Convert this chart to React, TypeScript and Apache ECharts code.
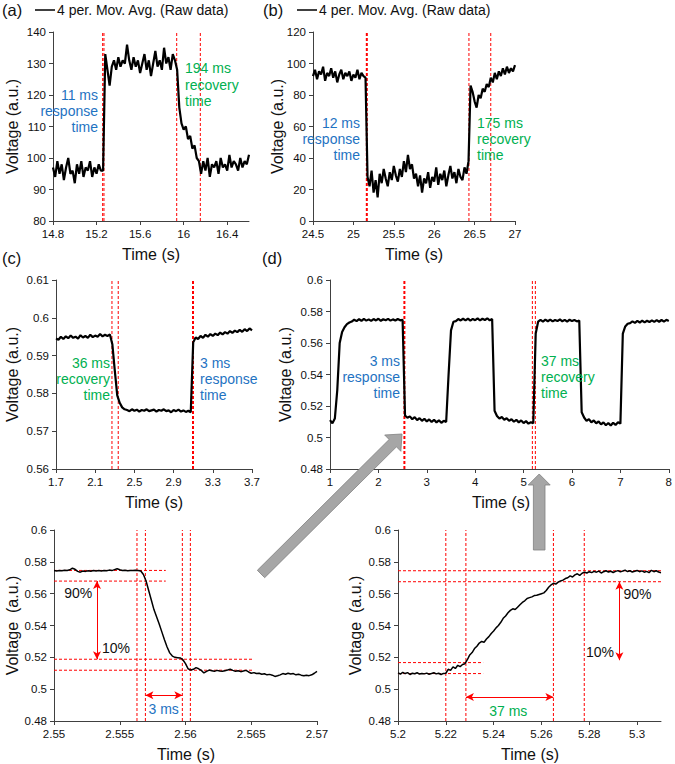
import React, { useEffect, useRef } from 'react';
import * as echarts from 'echarts';

const FONT = '"Liberation Sans", Arial, sans-serif';
const LEGEND_NAME = '4 per. Mov. Avg. (Raw data)';
const BLUE = '#1f73c2';
const GREEN = '#00b050';
const RED = '#ff0000';

// ---------- panel (a) ----------
const aStart = 14.8;
const aStep = 0.02;
const aValues = [
  97, 94, 99, 95, 98, 93, 97, 100, 95, 96, 92, 98, 95, 99, 94, 97, 96, 99, 94, 97, 95, 98, 96,
  96,
  133, 128, 123, 129, 131, 128, 132, 129, 131, 130, 136, 131, 128, 132, 129, 131, 127, 130, 133, 128,
  131, 126, 130, 134, 129, 131, 128, 135, 130, 132, 128, 133, 131,
  128, 116, 111,
  109, 110, 106, 107, 103, 104, 100, 99,
  95, 99, 96, 100, 94, 98, 97, 99, 95, 100, 97, 98, 96, 101, 97, 99, 98, 96, 100, 97, 99, 98, 101,
];
const aMarkers = [15.256, 15.268, 15.936, 16.153];

// ---------- panel (b) ----------
const bStart = 24.5;
const bStep = 0.025;
const bValues = [
  92, 96, 90, 95, 93, 98, 89, 94, 92, 97, 91, 95, 88, 93, 96, 90, 94, 92, 95, 89, 93, 91, 96, 90, 94, 92, 91,
  28, 22, 32, 18, 26, 15, 30, 24, 33, 27, 22, 31, 26, 35, 29, 25, 33, 28, 38, 31,
  42, 33, 36, 27, 30, 22, 29, 18, 27, 24, 31, 21, 28, 25, 34, 23, 30, 26, 32, 22,
  29, 35, 27, 31, 24, 33, 28, 26, 34, 30,
  38, 86, 82, 76, 72, 80, 78, 84, 82, 87, 85, 91, 88, 94, 90, 95, 92, 97, 93, 98, 94, 97, 95, 99,
];
const bMarkersBold = [25.166];
const bMarkers = [26.43, 26.7];

// ---------- panel (c) ----------
const cStart = 1.7;
const cStep = 0.025;
const cValues = [
  0.5945, 0.5942, 0.595, 0.5944, 0.5951, 0.5946, 0.5953, 0.5947, 0.595, 0.5945,
  0.5954, 0.5948, 0.5952, 0.5947, 0.5955, 0.5949, 0.5953, 0.595, 0.5957, 0.5951,
  0.5955, 0.5952, 0.5956,
  0.593, 0.586, 0.5795, 0.5775, 0.5763, 0.5758,
  0.5756, 0.5753, 0.5758, 0.5754, 0.5757, 0.5752, 0.5756, 0.5754, 0.5758, 0.5753,
  0.5755, 0.5757, 0.5752, 0.5756, 0.5754, 0.5758, 0.5753, 0.5755, 0.575, 0.5756,
  0.5753, 0.5757, 0.5752, 0.5755, 0.5751, 0.5754, 0.575,
  0.5935,
  0.5948, 0.5944, 0.5952, 0.5947, 0.5955, 0.595, 0.5957, 0.5952, 0.5958, 0.5954,
  0.5961, 0.5956, 0.5962, 0.5958, 0.5965, 0.596, 0.5966, 0.5962, 0.5968, 0.5963,
  0.597, 0.5965, 0.5972, 0.5967,
];
const cMarkers = [2.271, 2.335];
const cMarkersBold = [3.098];

// ---------- panel (d) ----------
const dStart = 1;
const dStep = 0.05;
const dValues = [
  0.511, 0.509, 0.512,
  0.53, 0.56, 0.567, 0.57, 0.572, 0.573,
  0.5736, 0.5748, 0.5739, 0.5751, 0.5741, 0.5753, 0.5742, 0.575, 0.574, 0.5752,
  0.5743, 0.5754, 0.5741, 0.5751, 0.5744, 0.5753, 0.5742, 0.575, 0.5743, 0.5752, 0.5744, 0.5748,
  0.514,
  0.5125, 0.5134, 0.5116, 0.5129, 0.511, 0.5123, 0.5106, 0.5119, 0.5102, 0.5115,
  0.5099, 0.5112, 0.5096, 0.5109, 0.5093, 0.5106, 0.5098,
  0.54, 0.568, 0.5735,
  0.5739, 0.5752, 0.5743, 0.5754, 0.5744, 0.5755, 0.5742, 0.5753, 0.5745, 0.5756,
  0.5743, 0.5754, 0.5746, 0.5757, 0.5744, 0.5752,
  0.517,
  0.5137, 0.512, 0.513, 0.5113, 0.5122, 0.5106, 0.5116, 0.51, 0.5112, 0.5096,
  0.5108, 0.5092, 0.5104, 0.5088, 0.5097,
  0.509, 0.566, 0.5735,
  0.5747, 0.5736, 0.5748, 0.5738, 0.5749, 0.5737, 0.5746, 0.5739, 0.575, 0.5738,
  0.5747, 0.5736, 0.5748, 0.5739, 0.5746, 0.5737, 0.5743,
  0.516,
  0.5127, 0.5106, 0.5117, 0.5096, 0.5108, 0.509, 0.5102, 0.5083, 0.5096, 0.5078,
  0.5092, 0.5076, 0.5094, 0.508, 0.5097, 0.5088,
  0.566, 0.5705, 0.5722,
  0.5726, 0.5737, 0.5728, 0.574, 0.573, 0.5742, 0.5731, 0.5741, 0.5733, 0.5744,
  0.5734, 0.5745, 0.5735, 0.5746, 0.5736, 0.5747, 0.574,
];
const dMarkers = [5.181, 5.243];
const dMarkersBold = [2.537];

// ---------- panel (e) ----------
const eStart = 2.55;
const eStep = 0.0002;
const eValues = [
  0.5745, 0.5743, 0.5746, 0.5744, 0.5747, 0.5745, 0.575, 0.576, 0.5753, 0.574,
  0.5735, 0.5742, 0.574, 0.5744, 0.5741, 0.5746, 0.5743, 0.5745, 0.5742, 0.5746,
  0.5744, 0.5748, 0.5745, 0.5751, 0.5757, 0.575, 0.5745, 0.5747, 0.5744, 0.5746,
  0.5745, 0.5747, 0.5746,
  0.5742, 0.572, 0.568, 0.562, 0.556, 0.55, 0.5455, 0.541, 0.536, 0.531,
  0.5265, 0.5228, 0.5208, 0.52, 0.5198, 0.5196, 0.5185, 0.516, 0.5128,
  0.512, 0.5125, 0.5135, 0.5128, 0.5118, 0.5102, 0.5112, 0.512, 0.5116, 0.5112,
  0.5118, 0.5114, 0.5112, 0.5116, 0.512, 0.5125, 0.5118, 0.5112, 0.5116, 0.511,
  0.5114, 0.5118, 0.5108, 0.51, 0.5104, 0.5098, 0.51, 0.5094, 0.5097, 0.509,
  0.5093, 0.5088, 0.508, 0.5084, 0.509, 0.5098, 0.5094, 0.51, 0.5095, 0.5098,
  0.509, 0.5094, 0.5088, 0.5084, 0.5088, 0.5085, 0.509, 0.51, 0.5112,
];
const eVertical = [2.55631, 2.55695, 2.55976, 2.56037];
const eLevelsTop = [0.5746, 0.5679];
const eLevelsBottom = [0.5188, 0.5119];
const eTopEnd = 2.5585;
const eBottomEnd = 2.56506;
const eArrowV = { x: 2.55327, from: 0.5679, to: 0.5188 };
const eArrowH = { y: 0.4962, from: 2.55695, to: 2.55976 };

// ---------- panel (f) ----------
const fStart = 5.2;
const fStep = 0.001;
const fValues = [
  0.5102, 0.5095, 0.5106, 0.5098, 0.5104, 0.5092, 0.51, 0.5097, 0.5103, 0.5095,
  0.5099, 0.5096, 0.5101, 0.5094, 0.5098, 0.5103, 0.5096, 0.51, 0.5092, 0.5099,
  0.51, 0.5125, 0.5118, 0.514, 0.513, 0.515, 0.5142, 0.5155, 0.516,
  0.5185, 0.5215, 0.523, 0.5255, 0.527, 0.529, 0.53, 0.5295, 0.5315, 0.533,
  0.535, 0.5365, 0.5385, 0.54, 0.542, 0.5445, 0.546,
  0.548, 0.5495, 0.5505, 0.55, 0.5515, 0.553, 0.5545, 0.5555, 0.557, 0.5575,
  0.558, 0.5588, 0.559, 0.5595, 0.56, 0.5605, 0.562, 0.564, 0.5655,
  0.5665, 0.566, 0.5672, 0.568, 0.5685, 0.5695, 0.57, 0.5712, 0.5705, 0.5718,
  0.5725, 0.5715, 0.5728, 0.5735, 0.573, 0.5738,
  0.5732, 0.574, 0.5735, 0.5742, 0.573, 0.5738, 0.5744, 0.5736, 0.5741, 0.5733,
  0.574, 0.5745, 0.5737, 0.5742, 0.5748, 0.5739, 0.5744, 0.5736, 0.5741, 0.5746,
  0.5738, 0.5743, 0.5735, 0.574, 0.5732, 0.5747, 0.5738, 0.5744, 0.5736, 0.5732,
];
const fVertical = [5.22, 5.2284, 5.265, 5.2779];
const fLevelsTop = [0.5744, 0.5675];
const fLevelsBottom = [0.5167, 0.5098];
const fBottomEnd = 5.2356;
const fArrowV = { x: 5.2926, from: 0.5675, to: 0.5182 };
const fArrowH = { y: 0.4951, from: 5.2284, to: 5.265 };

// axis ranges
const aRange = { xMin: 14.8, xMax: 16.6, xInt: 0.4, yMin: 80, yMax: 140, yInt: 10 };
const bRange = { xMin: 24.5, xMax: 27, xInt: 0.5, yMin: 0, yMax: 120, yInt: 20 };
const cRange = { xMin: 1.7, xMax: 3.7, xInt: 0.4, yMin: 0.56, yMax: 0.61, yInt: 0.01 };
const dRange = { xMin: 1, xMax: 8, xInt: 1, yMin: 0.48, yMax: 0.6, yInt: 0.02 };
const eRange = { xMin: 2.55, xMax: 2.57, xInt: 0.005, yMin: 0.48, yMax: 0.6, yInt: 0.02 };
const fRange = { xMin: 5.2, xMax: 5.31, xInt: 0.02, yMin: 0.48, yMax: 0.6, yInt: 0.02 };

function toPairs(start: number, step: number, values: number[]) {
  return values.map((v, i) => [start + step * i, v]);
}

const fmt = (v: number) => String(parseFloat(v.toFixed(4)));

function xAxis(gridIndex: number, r: any, showMax = true) {
  return {
    type: 'value',
    gridIndex,
    min: r.xMin,
    max: r.xMax,
    interval: r.xInt,
    axisLine: { show: true, onZero: false, lineStyle: { color: '#404040', width: 1 } },
    axisTick: { show: true, inside: false, length: 4, lineStyle: { color: '#404040' } },
    axisLabel: { fontFamily: FONT, fontSize: 11.5, color: '#111', margin: 7, showMaxLabel: showMax, formatter: fmt },
    splitLine: { show: false },
  };
}

function yAxis(gridIndex: number, r: any) {
  return {
    type: 'value',
    gridIndex,
    min: r.yMin,
    max: r.yMax,
    interval: r.yInt,
    axisLine: { show: true, onZero: false, lineStyle: { color: '#404040', width: 1 } },
    axisTick: { show: true, inside: false, length: 4, lineStyle: { color: '#404040' } },
    axisLabel: { fontFamily: FONT, fontSize: 11.5, color: '#111', margin: 7, formatter: fmt },
    splitLine: { show: false },
  };
}

// Build dashed reference segments as line-series data, separated by gaps.
function segData(segs: number[][][]) {
  const out: any[] = [];
  segs.forEach((s, i) => {
    if (i > 0) out.push([s[0][0], '-']);
    out.push(s[0], s[1]);
  });
  return out;
}

function vSegs(xs: number[], r: any) {
  return xs.map((x) => [[x, r.yMin], [x, r.yMax]]);
}

function hSegs(ys: number[], x0: number, x1: number) {
  return ys.map((y) => [[x0, y], [x1, y]]);
}

function refSeries(idx: number, segs: number[][][], width = 1) {
  return {
    type: 'line',
    name: 'ref' + idx,
    xAxisIndex: idx,
    yAxisIndex: idx,
    data: segData(segs),
    showSymbol: false,
    symbol: 'none',
    connectNulls: false,
    clip: false,
    silent: true,
    z: 1,
    lineStyle: { color: RED, width, type: [3, 2] },
    itemStyle: { color: RED },
  };
}

function arrowSeg(p0: number[], p1: number[]) {
  return [
    { coord: p0, symbol: 'arrow', symbolSize: [6, 8] },
    { coord: p1, symbol: 'arrow', symbolSize: [6, 8] },
  ];
}

function arrowMarkLine(data: any[]) {
  return {
    silent: true,
    symbol: ['arrow', 'arrow'],
    symbolSize: [6, 8],
    label: { show: false },
    emphasis: { disabled: true },
    lineStyle: { color: RED, width: 1, type: 'solid' },
    itemStyle: { color: RED },
    animation: false,
    data,
  };
}

function lineSeries(name: string, idx: number, data: number[][], width: number, ml?: any) {
  return {
    type: 'line',
    name,
    xAxisIndex: idx,
    yAxisIndex: idx,
    data,
    showSymbol: false,
    symbol: 'none',
    z: 3,
    lineStyle: { color: '#000', width },
    itemStyle: { color: '#000' },
    markLine: ml,
    silent: true,
  };
}

function arrowPoints(tx: number, ty: number, hx: number, hy: number, sh: number, hh: number, hl: number) {
  const dx = hx - tx;
  const dy = hy - ty;
  const L = Math.hypot(dx, dy);
  const ux = dx / L;
  const uy = dy / L;
  const nx = -uy;
  const ny = ux;
  const bx = hx - ux * hl;
  const by = hy - uy * hl;
  return [
    [tx + nx * sh, ty + ny * sh],
    [bx + nx * sh, by + ny * sh],
    [bx + nx * hh, by + ny * hh],
    [hx, hy],
    [bx - nx * hh, by - ny * hh],
    [bx - nx * sh, by - ny * sh],
    [tx - nx * sh, ty - ny * sh],
  ];
}

function txt(x: number, y: number, text: string, size: number, fill: string, align = 'center', rotation = 0, lineHeight?: number) {
  return {
    type: 'text',
    x,
    y,
    rotation,
    z: 100,
    silent: true,
    style: {
      text,
      fill,
      font: `${size}px ${FONT}`,
      align,
      verticalAlign: 'middle',
      lineHeight: lineHeight ?? size * 1.2,
    },
  };
}

export default function App() {
  const ref = useRef<HTMLDivElement>(null);
  useEffect(() => {
    if (!ref.current) return;
    const chart = echarts.init(ref.current, undefined, { renderer: 'svg' });

    const grids = [
      { left: 53, top: 32, width: 196, height: 189 },
      { left: 313, top: 32, width: 202, height: 189 },
      { left: 56, top: 280, width: 196, height: 189 },
      { left: 330, top: 280, width: 342, height: 189 },
      { left: 54, top: 530, width: 263, height: 191 },
      { left: 398, top: 530, width: 263, height: 191 },
    ];

    const series: any[] = [
      lineSeries(LEGEND_NAME, 0, toPairs(aStart, aStep, aValues), 2.2),
      lineSeries(LEGEND_NAME, 1, toPairs(bStart, bStep, bValues), 2.2),
      lineSeries('c', 2, toPairs(cStart, cStep, cValues), 2.2),
      lineSeries('d', 3, toPairs(dStart, dStep, dValues), 2.2),
      lineSeries('e', 4, toPairs(eStart, eStep, eValues), 1.5, arrowMarkLine([
        arrowSeg([eArrowV.x, eArrowV.from], [eArrowV.x, eArrowV.to]),
        arrowSeg([eArrowH.from, eArrowH.y], [eArrowH.to, eArrowH.y]),
      ])),
      lineSeries('f', 5, toPairs(fStart, fStep, fValues), 1.5, arrowMarkLine([
        arrowSeg([fArrowV.x, fArrowV.from], [fArrowV.x, fArrowV.to]),
        arrowSeg([fArrowH.from, fArrowH.y], [fArrowH.to, fArrowH.y]),
      ])),
      refSeries(0, vSegs(aMarkers, aRange)),
      refSeries(1, vSegs(bMarkers, bRange)),
      refSeries(1, vSegs(bMarkersBold, bRange), 2),
      refSeries(2, vSegs(cMarkers, cRange)),
      refSeries(2, vSegs(cMarkersBold, cRange), 2),
      refSeries(3, vSegs(dMarkers, dRange)),
      refSeries(3, vSegs(dMarkersBold, dRange), 2),
      refSeries(4, [
        ...vSegs(eVertical, eRange),
        ...hSegs(eLevelsTop, eRange.xMin, eTopEnd),
        ...hSegs(eLevelsBottom, eRange.xMin, eBottomEnd),
      ]),
      refSeries(5, [
        ...vSegs(fVertical, fRange),
        ...hSegs(fLevelsTop, fRange.xMin, fRange.xMax),
        ...hSegs(fLevelsBottom, fRange.xMin, fBottomEnd),
      ]),
    ];

    const legendBase = {
      data: [LEGEND_NAME],
      top: 3,
      padding: 0,
      icon: 'rect',
      itemWidth: 20,
      itemHeight: 1.5,
      selectedMode: false,
      textStyle: { fontFamily: FONT, fontSize: 14, color: '#111', padding: [0, 0, 0, -3] },
      itemStyle: { color: '#000' },
    };

    const greyArrow = (pts: number[][]) => ({
      type: 'polygon',
      z: 200,
      silent: true,
      shape: { points: pts },
      style: { fill: '#a6a6a6', stroke: '#808080', lineWidth: 0.8 },
    });

    const graphic: any[] = [
      txt(2, 10, '(a)', 16.5, '#111', 'left'),
      txt(263, 10, '(b)', 16.5, '#111', 'left'),
      txt(2, 258, '(c)', 16.5, '#111', 'left'),
      txt(262, 258, '(d)', 16.5, '#111', 'left'),
      // y titles
      txt(12, 126.5, 'Voltage (a.u.)', 16, '#111', 'center', Math.PI / 2),
      txt(277, 126.5, 'Voltage (a.u.)', 16, '#111', 'center', Math.PI / 2),
      txt(12, 374.5, 'Voltage (a.u.)', 16, '#111', 'center', Math.PI / 2),
      txt(285, 374.5, 'Voltage (a.u.)', 16, '#111', 'center', Math.PI / 2),
      txt(12, 625.5, 'Voltage  (a.u.)', 16, '#111', 'center', Math.PI / 2),
      txt(355, 625.5, 'Voltage  (a.u.)', 16, '#111', 'center', Math.PI / 2),
      // x titles
      txt(151, 254, 'Time (s)', 16, '#111'),
      txt(414, 254, 'Time (s)', 16, '#111'),
      txt(154, 502, 'Time (s)', 16, '#111'),
      txt(501, 502, 'Time (s)', 16, '#111'),
      txt(186, 754, 'Time (s)', 16, '#111'),
      txt(530, 754, 'Time (s)', 16, '#111'),
      // annotations
      txt(98, 111, '11 ms\nresponse\ntime', 14, BLUE, 'right', 0, 16.4),
      txt(185, 84.7, '194 ms\nrecovery\ntime', 14, GREEN, 'left', 0, 16.4),
      txt(360, 139, '12 ms\nresponse\ntime', 14, BLUE, 'right', 0, 16.4),
      txt(477, 139, '175 ms\nrecovery\ntime', 14, GREEN, 'left', 0, 16.4),
      txt(110, 378.8, '36 ms\nrecovery\ntime', 14, GREEN, 'right', 0, 16.2),
      txt(200, 378.8, '3 ms\nresponse\ntime', 14, BLUE, 'left', 0, 16.2),
      txt(400, 377, '3 ms\nresponse\ntime', 14, BLUE, 'right', 0, 16.4),
      txt(541, 377, '37 ms\nrecovery\ntime', 14, GREEN, 'left', 0, 16.4),
      txt(78.3, 593.3, '90%', 14, '#111'),
      txt(116, 648.3, '10%', 14, '#111'),
      txt(163.7, 709.3, '3 ms', 14, BLUE),
      txt(637.5, 594.3, '90%', 14, '#111'),
      txt(600, 652.3, '10%', 14, '#111'),
      txt(508.3, 710.7, '37 ms', 14, GREEN),
      greyArrow(arrowPoints(261, 574, 402, 434, 5.2, 11.5, 13)),
      greyArrow(arrowPoints(539.2, 550, 539.2, 474, 5.8, 11, 11)),
    ];

    chart.setOption({
      animation: false,
      backgroundColor: '#fff',
      textStyle: { fontFamily: FONT },
      legend: [
        { ...legendBase, left: 35 },
        { ...legendBase, left: 297 },
      ],
      grid: grids,
      xAxis: [
        xAxis(0, aRange, false),
        xAxis(1, bRange),
        xAxis(2, cRange),
        xAxis(3, dRange),
        xAxis(4, eRange),
        xAxis(5, fRange, false),
      ],
      yAxis: [
        yAxis(0, aRange),
        yAxis(1, bRange),
        yAxis(2, cRange),
        yAxis(3, dRange),
        yAxis(4, eRange),
        yAxis(5, fRange),
      ],
      series,
      graphic,
    });

    return () => chart.dispose();
  }, []);

  return (
    <div
      ref={ref}
      style={{ position: 'absolute', left: 0, top: 0, width: 675, height: 764, background: '#fff' }}
    />
  );
}
